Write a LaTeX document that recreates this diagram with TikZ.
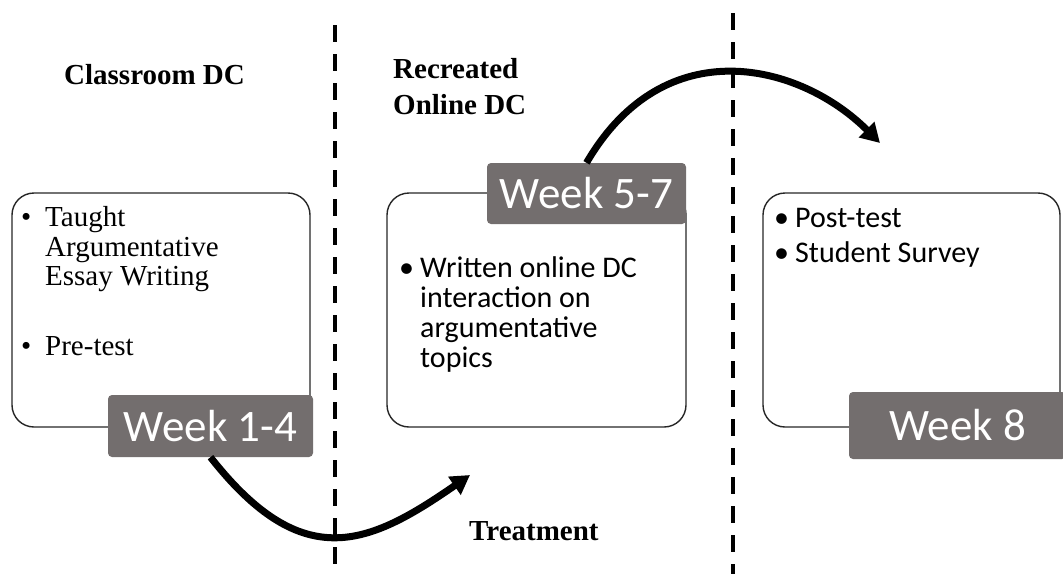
\documentclass[tikz,border=0pt]{standalone}
\usepackage{fontspec}
\setmainfont{Liberation Serif}
\newfontfamily\calfont{Carlito}
\usetikzlibrary{arrows.meta}
\definecolor{wkgray}{RGB}{115,110,110}
\begin{document}
\begin{tikzpicture}[x=1pt,y=-1pt,
  stagebox/.style={draw=black!85, line width=1.4pt, rounded corners=22pt, inner sep=0pt, minimum height=234pt},
  weeklabel/.style={fill=wkgray, rounded corners=4pt, text=white, inner sep=0pt, font=\calfont\fontsize{45}{45}\selectfont},
  sertext/.style={anchor=base west, inner sep=0pt, font=\fontsize{29}{30}\selectfont},
  caltext/.style={anchor=base west, inner sep=0pt, font=\calfont\fontsize{30}{30}\selectfont},
  heading/.style={anchor=base west, inner sep=0pt, font=\bfseries\fontsize{29}{29}\selectfont},
  divider/.style={line width=3.5pt, dash pattern=on 17pt off 12pt},
  flow/.style={line width=7pt, -{Triangle[length=19pt,width=21pt]}}
]
\useasboundingbox (0,0) rectangle (1063,574);

% dividers
\coordinate (d1t) at (335,25);
\coordinate (d1b) at (335,574);
\coordinate (d2t) at (733,13);
\coordinate (d2b) at (733,574);
\draw[divider] (d1t) -- (d1b);
\draw[divider] (d2t) -- (d2b);

% headings
\node[heading] (h1) at (64,84) {Classroom DC};
\node[heading] (h2) at (393,78) {Recreated};
\node[heading] (h3) at (393,114) {Online DC};
\node[heading] (h4) at (469,540) {Treatment};

% stage boxes
\node[stagebox, minimum width=298pt] (b1) at (161,310) {};
\node[stagebox, minimum width=299pt] (b2) at (536.5,310) {};
\node[stagebox, minimum width=297pt] (b3) at (911.5,310) {};

% box 1 text
\node[sertext] (p1) at (21,226) {\textbullet};
\node[sertext] (l1a) at (45,226) {Taught};
\node[sertext] (l1b) at (45,256) {Argumentative};
\node[sertext] (l1c) at (45,285) {Essay Writing};
\node[sertext] (p2) at (21,355) {\textbullet};
\node[sertext] (l1d) at (45,355) {Pre-test};

% box 2 text
\node[caltext] (p3) at (399,277) {\textbullet};
\node[caltext] (l2a) at (420,277) {Written online DC};
\node[caltext] (l2b) at (420,307) {interaction on};
\node[caltext] (l2c) at (420,337) {argumentative};
\node[caltext] (l2d) at (420,367) {topics};

% box 3 text
\node[caltext] (p4) at (774,227) {\textbullet};
\node[caltext] (l3a) at (795,227) {Post-test};
\node[caltext] (p5) at (774,262) {\textbullet};
\node[caltext] (l3b) at (795,262) {Student Survey};

% arrows
\coordinate (e1) at (470,475);
\coordinate (e2) at (880,143);

% week labels
\node[weeklabel, minimum width=205pt, minimum height=62pt] (w1) at (210.5,426) {Week 1-4};
\node[weeklabel, minimum width=199pt, minimum height=61pt] (w2) at (586.5,193.5) {Week 5-7};
\node[weeklabel, minimum width=217pt, minimum height=67pt] (w3) at (957.5,425.5) {Week 8};

\draw[flow] (w1.south) .. controls (303,575) and (369,545) .. (e1);
\draw[flow] (w2.north) .. controls (665,28) and (801,64) .. (e2);
\end{tikzpicture}
\end{document}
